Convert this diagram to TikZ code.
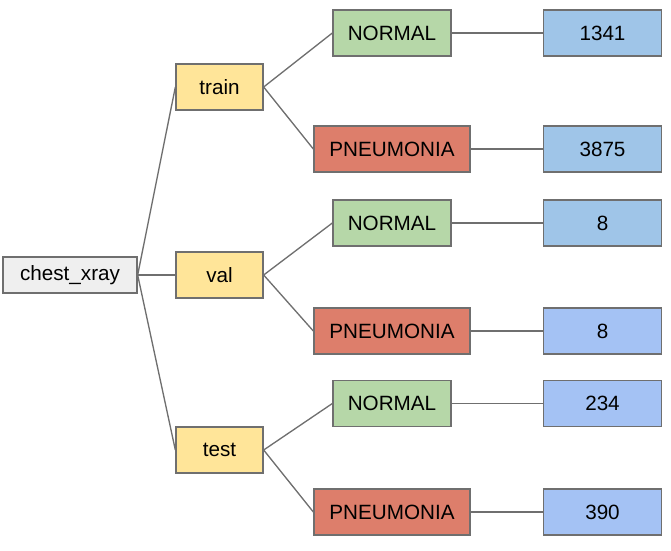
\documentclass[tikz,border=0pt]{standalone}
\usepackage{fontspec}
\setmainfont{Liberation Sans}
\usepackage{xcolor}
\usetikzlibrary{positioning}
\definecolor{rootgray}{HTML}{EFEFEF}
\definecolor{splityellow}{HTML}{FFE599}
\definecolor{normalgreen}{HTML}{B6D7A8}
\definecolor{pneured}{HTML}{DD7E6B}
\definecolor{countblue1}{HTML}{9FC5E8}
\definecolor{countblue2}{HTML}{A4C2F4}
\definecolor{edgegray}{HTML}{6F6F6F}

\begin{document}
\begin{tikzpicture}[
    x=0.75pt, y=-0.75pt,
    box/.style={draw=edgegray, line width=1pt, minimum height=34.5pt, inner sep=0pt, font=\fontsize{15.5}{18}\selectfont},
    root/.style={box, fill=rootgray, minimum width=100.5pt, minimum height=27pt},
    split/.style={box, fill=splityellow, minimum width=65.25pt},
    normal/.style={box, fill=normalgreen, minimum width=88.5pt},
    pneu/.style={box, fill=pneured, minimum width=117pt},
    count/.style={box, minimum width=88.5pt},
    link/.style={draw=edgegray, line width=1pt}
]
    \useasboundingbox (0,0) rectangle (671,550);

    % Root and splits
    \node[root] (root) at (70,275) {chest\_xray};
    \node[split] (train) at (219.5,87) {train};
    \node[split] (val) at (219.5,275) {val};
    \node[split] (test) at (219.5,450) {test};

    % Classes
    \node[normal] (trainN) at (392,33) {NORMAL};
    \node[pneu] (trainP) at (392,149) {PNEUMONIA};
    \node[normal] (valN) at (392,223) {NORMAL};
    \node[pneu] (valP) at (392,331) {PNEUMONIA};
    \node[normal] (testN) at (392,403.5) {NORMAL};
    \node[pneu] (testP) at (392,512) {PNEUMONIA};

    % Counts
    \node[count, fill=countblue1] (trainNc) at (602.5,33) {1341};
    \node[count, fill=countblue1] (trainPc) at (602.5,149) {3875};
    \node[count, fill=countblue1] (valNc) at (602.5,223) {8};
    \node[count, fill=countblue2] (valPc) at (602.5,331) {8};
    \node[count, fill=countblue2] (testNc) at (602.5,403.5) {234};
    \node[count, fill=countblue2] (testPc) at (602.5,512) {390};

    % Connectors
    \foreach \s in {train, val, test} {
        \draw[link] (root.east) -- (\s.west);
        \draw[link] (\s.east) -- (\s N.west);
        \draw[link] (\s.east) -- (\s P.west);
        \draw[link] (\s N.east) -- (\s Nc.west);
        \draw[link] (\s P.east) -- (\s Pc.west);
    }
\end{tikzpicture}
\end{document}
